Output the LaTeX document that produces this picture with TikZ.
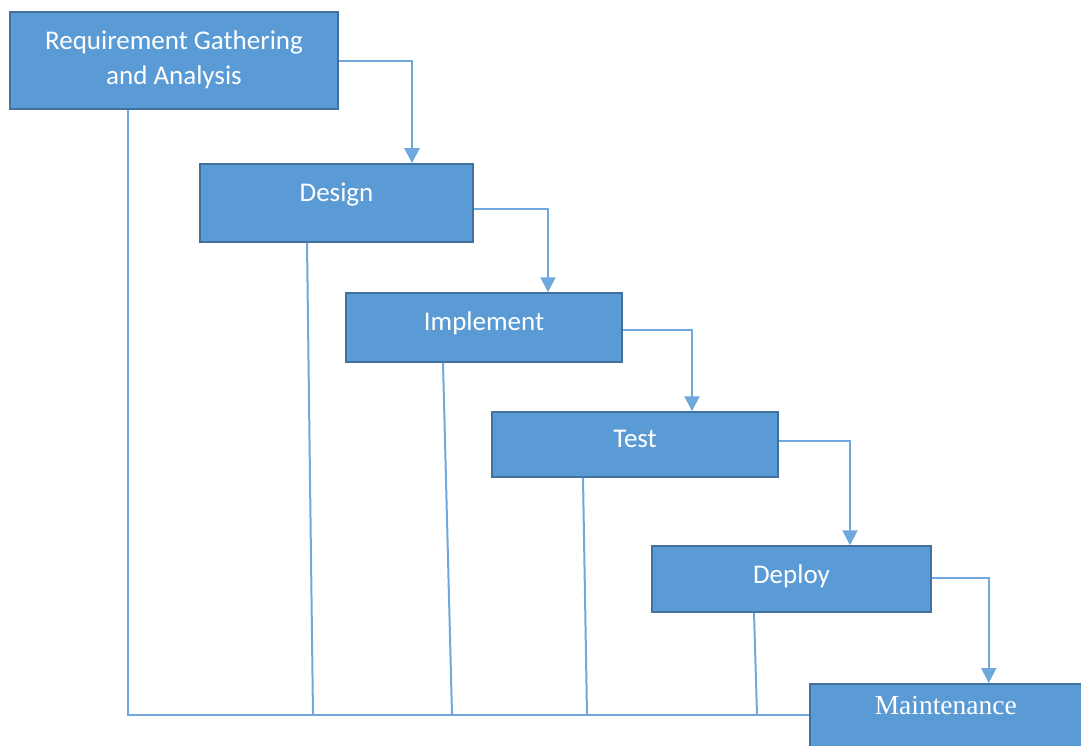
\documentclass[tikz,border=0pt]{standalone}
\usepackage{fontspec}
\setmainfont{Carlito}
\newfontfamily\timesfont{Liberation Serif}
\usetikzlibrary{arrows.meta,positioning}
\definecolor{boxfill}{HTML}{5B9BD5}
\definecolor{boxline}{HTML}{41719C}
\definecolor{flowline}{HTML}{6FA8DC}
\tikzset{
	phase/.style={draw=boxline,line width=1.5pt,fill=boxfill,text=white,align=center,
		font=\fontsize{27}{35}\selectfont,inner sep=0pt},
	flow/.style={draw=flowline,line width=2pt,-{Triangle[length=15pt,width=15pt]}},
	link/.style={draw=flowline,line width=2pt}
}
\begin{document}
\begin{tikzpicture}[x=1pt,y=-1pt]
				\useasboundingbox (0,0) rectangle (1081,746);
				%phases
				\node[phase,minimum width=328pt,minimum height=97pt] (req) at (174,60.5)
					{\raisebox{3pt}{\setlength\tabcolsep{0pt}%
					\begin{tabular}{c}Requirement Gathering\\and Analysis\end{tabular}}};
				\node[phase,minimum width=273pt,minimum height=78pt] (design) at (336.5,203)
					{\raisebox{22pt}{Design}};
				\node[phase,minimum width=276pt,minimum height=69pt] (impl) at (484,327.5)
					{\raisebox{13pt}{Implement}};
				\node[phase,minimum width=286pt,minimum height=65pt] (test) at (635,444.5)
					{\raisebox{12pt}{Test}};
				\node[phase,minimum width=279pt,minimum height=66pt] (deploy) at (791.5,579)
					{\raisebox{9pt}{Deploy}};
				\node[phase,minimum width=300pt,minimum height=90pt,anchor=north west,
					label={[text=white,font=\timesfont\fontsize{27.5}{30}\selectfont,anchor=north,xshift=-14pt,yshift=-10pt]north:Maintenance}]
					(maint) at (809,683) {};
				%waterfall arrows
				\draw[flow] ([yshift=-0.5pt]req.east) -| ([xshift=75.5pt]design.north);
				\draw[flow] ([yshift=-6pt]design.east) -| ([xshift=64pt]impl.north);
				\draw[flow] ([yshift=-2.5pt]impl.east) -| ([xshift=57pt]test.north);
				\draw[flow] ([yshift=3.5pt]test.east) -| ([xshift=58.5pt]deploy.north);
				\draw[flow] ([yshift=1pt]deploy.east) -| ([xshift=29pt]maint.north);
				%feedback lines
				\coordinate (base) at (128,715);
				\coordinate (b2) at (313,715);
				\coordinate (b3) at (452,715);
				\coordinate (b4) at (587,715);
				\coordinate (b5) at (757,715);
				\draw[link] (req.south -| base) -- (base) -- (base -| maint.west);
				\draw[link] ([xshift=-29.5pt]design.south) -- (b2);
				\draw[link] ([xshift=-41pt]impl.south) -- (b3);
				\draw[link] ([xshift=-52pt]test.south) -- (b4);
				\draw[link] ([xshift=-37.5pt]deploy.south) -- (b5);
\end{tikzpicture}
\end{document}
